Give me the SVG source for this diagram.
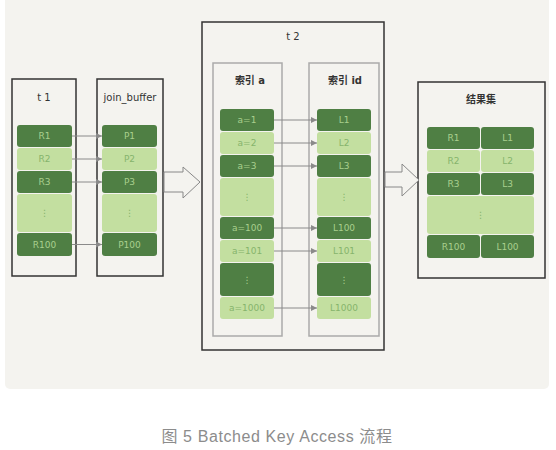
<svg xmlns="http://www.w3.org/2000/svg" width="556" height="450" viewBox="0 0 556 450">
<defs>
<style>
.panel{fill:#f4f3ef}
.box{fill:none;stroke:#333;stroke-width:1.5}
.idx{fill:none;stroke:#aaa;stroke-width:1.5}
.d{fill:#4f7f44}
.l{fill:#c3dfa0}
.td{fill:#a9cf8e;font-family:"DejaVu Sans",sans-serif;font-size:9px;text-anchor:middle;dominant-baseline:central}
.tl{fill:#86b46c;font-family:"DejaVu Sans",sans-serif;font-size:9px;text-anchor:middle;dominant-baseline:central}
.title{fill:#333;font-family:"DejaVu Sans","Noto Sans CJK SC",sans-serif;font-size:10px;text-anchor:middle;dominant-baseline:central}
.conn{stroke:#8a8a8a;stroke-width:1;fill:none;marker-end:url(#ah)}
.big{fill:#f4f3ef;stroke:#888;stroke-width:1}
</style>
<marker id="ah" viewBox="0 0 8 8" refX="8" refY="4" markerWidth="6" markerHeight="6" markerUnits="userSpaceOnUse" orient="auto">
<path d="M0,0 L8,4 L0,8 z" fill="#8a8a8a"/>
</marker>
</defs>
<rect x="5" y="-6" width="544" height="395" rx="5" class="panel"/>

<g id="t1">
<rect x="12" y="79" width="64" height="197" class="box"/>
<text x="44" y="97" class="title">t 1</text>
<rect x="17" y="125" width="55" height="22" rx="3" class="d"/><text x="44.5" y="136" class="td">R1</text>
<rect x="17" y="148" width="55" height="22" rx="3" class="l"/><text x="44.5" y="159" class="tl">R2</text>
<rect x="17" y="171" width="55" height="22" rx="3" class="d"/><text x="44.5" y="182" class="td">R3</text>
<rect x="17" y="194" width="55" height="38" rx="3" class="l"/><text x="44.5" y="213" class="tl">⋮</text>
<rect x="17" y="233" width="55" height="23" rx="3" class="d"/><text x="44.5" y="244.5" class="td">R100</text>
</g>

<g id="join_buffer">
<rect x="97" y="79" width="66" height="197" class="box"/>
<text x="130" y="97" class="title">join_buffer</text>
<rect x="102" y="125" width="55" height="22" rx="3" class="d"/><text x="129.5" y="136" class="td">P1</text>
<rect x="102" y="148" width="55" height="22" rx="3" class="l"/><text x="129.5" y="159" class="tl">P2</text>
<rect x="102" y="171" width="55" height="22" rx="3" class="d"/><text x="129.5" y="182" class="td">P3</text>
<rect x="102" y="194" width="55" height="38" rx="3" class="l"/><text x="129.5" y="213" class="tl">⋮</text>
<rect x="102" y="233" width="55" height="23" rx="3" class="d"/><text x="129.5" y="244.5" class="td">P100</text>
</g>

<g id="t2">
<rect x="202" y="22" width="182" height="328" class="box"/>
<text x="293" y="36" class="title">t 2</text>
</g>

<g id="index_a">
<rect x="213" y="63" width="69" height="273" class="idx"/>
<text x="250" y="80" class="title" font-weight="bold">索引 a</text>
<rect x="220" y="109" width="54" height="22" rx="3" class="d"/><text x="247" y="120" class="td">a=1</text>
<rect x="220" y="132" width="54" height="22" rx="3" class="l"/><text x="247" y="143" class="tl">a=2</text>
<rect x="220" y="155" width="54" height="22" rx="3" class="d"/><text x="247" y="166" class="td">a=3</text>
<rect x="220" y="178" width="54" height="38" rx="3" class="l"/><text x="247" y="197" class="tl">⋮</text>
<rect x="220" y="217" width="54" height="22" rx="3" class="d"/><text x="247" y="228" class="td">a=100</text>
<rect x="220" y="240" width="54" height="22" rx="3" class="l"/><text x="247" y="251" class="tl">a=101</text>
<rect x="220" y="263" width="54" height="33" rx="3" class="d"/><text x="247" y="279.5" class="td">⋮</text>
<rect x="220" y="297" width="54" height="22" rx="3" class="l"/><text x="247" y="308" class="tl">a=1000</text>
</g>

<g id="index_id">
<rect x="309" y="63" width="70" height="273" class="idx"/>
<text x="345" y="80" class="title" font-weight="bold">索引 id</text>
<rect x="317" y="109" width="54" height="22" rx="3" class="d"/><text x="344" y="120" class="td">L1</text>
<rect x="317" y="132" width="54" height="22" rx="3" class="l"/><text x="344" y="143" class="tl">L2</text>
<rect x="317" y="155" width="54" height="22" rx="3" class="d"/><text x="344" y="166" class="td">L3</text>
<rect x="317" y="178" width="54" height="38" rx="3" class="l"/><text x="344" y="197" class="tl">⋮</text>
<rect x="317" y="217" width="54" height="22" rx="3" class="d"/><text x="344" y="228" class="td">L100</text>
<rect x="317" y="240" width="54" height="22" rx="3" class="l"/><text x="344" y="251" class="tl">L101</text>
<rect x="317" y="263" width="54" height="33" rx="3" class="d"/><text x="344" y="279.5" class="td">⋮</text>
<rect x="317" y="297" width="54" height="22" rx="3" class="l"/><text x="344" y="308" class="tl">L1000</text>
</g>

<g id="result">
<rect x="418" y="82" width="127" height="196" class="box"/>
<text x="481" y="99" class="title" font-weight="bold">结果集</text>
<rect x="427" y="127" width="53" height="22" rx="3" class="d"/><text x="453.5" y="138" class="td">R1</text>
<rect x="481" y="127" width="53" height="22" rx="3" class="d"/><text x="507.5" y="138" class="td">L1</text>
<rect x="427" y="150" width="53" height="22" rx="3" class="l"/><text x="453.5" y="161" class="tl">R2</text>
<rect x="481" y="150" width="53" height="22" rx="3" class="l"/><text x="507.5" y="161" class="tl">L2</text>
<rect x="427" y="173" width="53" height="22" rx="3" class="d"/><text x="453.5" y="184" class="td">R3</text>
<rect x="481" y="173" width="53" height="22" rx="3" class="d"/><text x="507.5" y="184" class="td">L3</text>
<rect x="427" y="196" width="107" height="38" rx="3" class="l"/><text x="480.5" y="215" class="tl">⋮</text>
<rect x="427" y="235" width="53" height="23" rx="3" class="d"/><text x="453.5" y="246.5" class="td">R100</text>
<rect x="481" y="235" width="53" height="23" rx="3" class="d"/><text x="507.5" y="246.5" class="td">L100</text>
</g>

<g id="connectors">
<line x1="72" y1="136" x2="102" y2="136" class="conn"/>
<line x1="72" y1="159" x2="102" y2="159" class="conn"/>
<line x1="72" y1="182" x2="102" y2="182" class="conn"/>
<line x1="72" y1="244.5" x2="102" y2="244.5" class="conn"/>
<line x1="274" y1="120" x2="317" y2="120" class="conn"/>
<line x1="274" y1="143" x2="317" y2="143" class="conn"/>
<line x1="274" y1="166" x2="317" y2="166" class="conn"/>
<line x1="274" y1="228" x2="317" y2="228" class="conn"/>
<line x1="274" y1="251" x2="317" y2="251" class="conn"/>
<line x1="274" y1="308" x2="317" y2="308" class="conn"/>
<path d="M164,172 L183,172 L183,167 L200,182 L183,198 L183,192 L164,192 Z" class="big"/>
<path d="M385,172 L402,172 L402,164 L419,180 L402,196 L402,187 L385,187 Z" class="big"/>
</g>

<text x="277" y="436" fill="#8c8c8c" font-family="'Liberation Sans','Noto Sans CJK SC',sans-serif" font-size="16" letter-spacing="0.6" text-anchor="middle" dominant-baseline="central">图 5 Batched Key Access 流程</text>
</svg>
